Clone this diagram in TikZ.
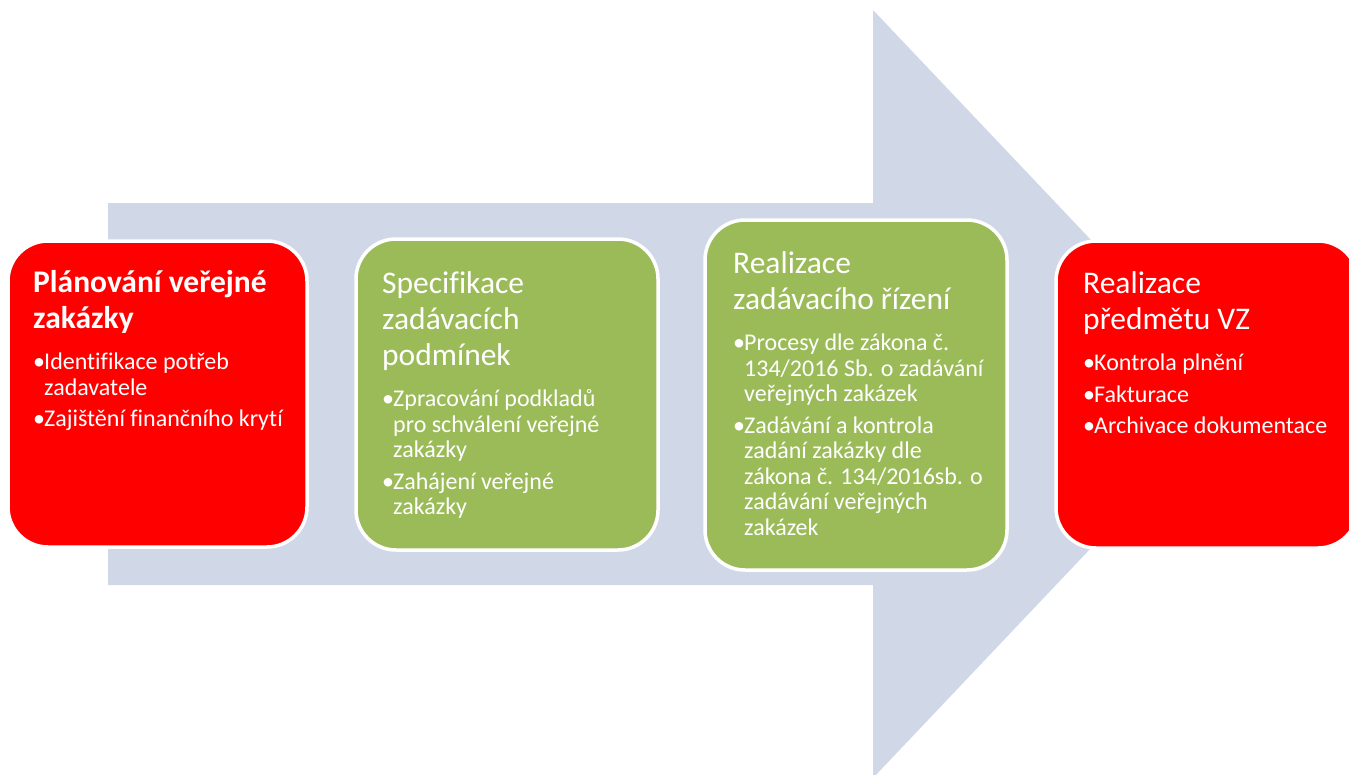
\documentclass[tikz,border=0pt]{standalone}
\usepackage{fontspec}
\setmainfont{Carlito}[Ligatures=NoCommon]
\usetikzlibrary{positioning}

\definecolor{sipka}{RGB}{208,216,232}
\definecolor{cervena}{RGB}{255,0,0}
\definecolor{zelena}{RGB}{155,187,89}

% nadpis kroku a odrazky
\newcommand{\nadpis}[1]{{\fontsize{31.5}{36}\selectfont #1\par}\vspace{10pt}}
\newcommand{\bod}[1]{\par\vspace{6pt}\hangindent=11pt\hangafter=1\noindent\makebox[11pt][l]{•}#1}

\tikzset{
  krok/.style={rectangle, rounded corners=40pt, draw=white, line width=3.5pt,
    outer sep=0pt, inner sep=0pt, minimum width=302pt},
  popis/.style={anchor=base west, inner sep=0pt, text=white, font=\fontsize{24}{25.5}\selectfont}
}

\begin{document}
\begin{tikzpicture}[x=1pt,y=-1pt]
\clip (0,0) rectangle (1349,774);
\fill[white] (0,0) rectangle (1349,774);

% velka sipka na pozadi
\fill[sipka] (108,203) -- (873,203) -- (873,10) -- (1237,394) -- (873,778)
  -- (873,585) -- (108,585) -- cycle;

% kroky
\node[krok, fill=cervena, minimum width=299pt, minimum height=306pt] (plan) at (157.5,394) {};
\node[krok, fill=zelena, minimum height=311pt] (spec) at (507,394.5) {};
\node[krok, fill=zelena, minimum height=350pt] (rizeni) at (856,395) {};
\node[krok, fill=cervena, minimum height=307pt] (predmet) at (1207,394.5) {};

% texty
\node[popis] (plantext) at ([shift={(25,51)}]plan.north west) {\begin{minipage}[t]{275pt}
\nadpis{\bfseries Plánování veřejné\\zakázky}
\bod{Identifikace potřeb\newline zadavatele}
\bod{Zajištění finančního krytí}
\end{minipage}};

\node[popis] (spectext) at ([shift={(26,54)}]spec.north west) {\begin{minipage}[t]{275pt}
\nadpis{Specifikace\\zadávacích\\podmínek}
\bod{Zpracování podkladů\newline pro schválení veřejné\newline zakázky}
\bod{Zahájení veřejné\newline zakázky}
\end{minipage}};

\node[popis] (rizenitext) at ([shift={(28,53)}]rizeni.north west) {\begin{minipage}[t]{275pt}
\nadpis{Realizace\\zadávacího řízení}
\bod{Procesy dle zákona č.\newline 134/2016 Sb. o zadávání\newline veřejných zakázek}
\bod{Zadávání a kontrola\newline zadání zakázky dle\newline zákona č. 134/2016sb. o\newline zadávání veřejných\newline zakázek}
\end{minipage}};

\node[popis] (predmettext) at ([shift={(27,52)}]predmet.north west) {\begin{minipage}[t]{275pt}
\nadpis{Realizace\\předmětu VZ}
\bod{Kontrola plnění}
\bod{Fakturace}
\bod{Archivace dokumentace}
\end{minipage}};
\end{tikzpicture}
\end{document}
